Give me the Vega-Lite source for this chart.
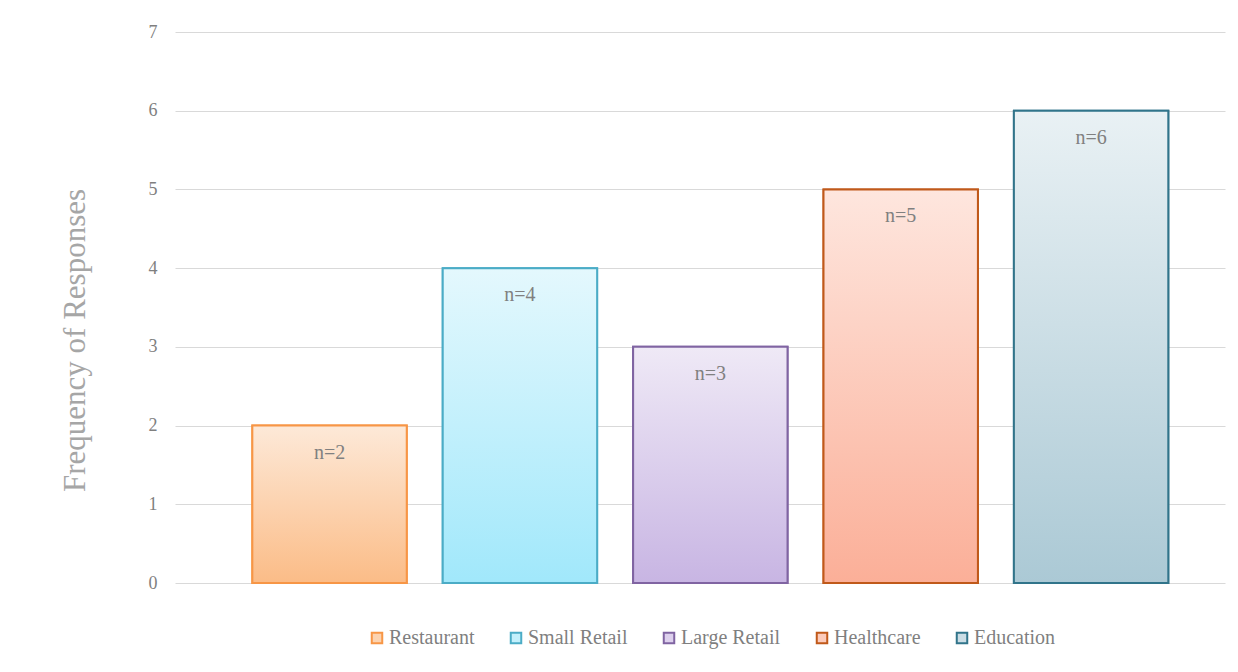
{
  "$schema": "https://vega.github.io/schema/vega-lite/v6.json",
  "autosize": "none",
  "width": 1050,
  "height": 551,
  "padding": {"left": 175, "top": 32, "right": 13, "bottom": 89},
  "background": "white",
  "config": {"view": {"stroke": null}, "font": "Liberation Serif"},
  "data": {
    "values": [
      {"sector": "Restaurant", "count": 2, "label": "n=2"},
      {"sector": "Small Retail", "count": 4, "label": "n=4"},
      {"sector": "Large Retail", "count": 3, "label": "n=3"},
      {"sector": "Healthcare", "count": 5, "label": "n=5"},
      {"sector": "Education", "count": 6, "label": "n=6"}
    ]
  },
  "encoding": {
    "x": {
      "field": "sector",
      "type": "nominal",
      "sort": null,
      "axis": null,
      "scale": {"paddingInner": 0.189, "paddingOuter": 0.352, "align": 0.577}
    },
    "y": {
      "field": "count",
      "type": "quantitative",
      "scale": {"domain": [0, 7], "nice": false},
      "axis": {
        "title": "Frequency of Responses",
        "titleFont": "Liberation Serif",
        "titleFontSize": 31,
        "titleFontWeight": "normal",
        "titleColor": "#a6a6a6",
        "titlePadding": 57,
        "titleY": 308,
        "titleAnchor": "middle",
        "values": [0, 1, 2, 3, 4, 5, 6, 7],
        "labelFont": "Liberation Serif",
        "labelFontSize": 18,
        "labelColor": "#7f7f7f",
        "labelPadding": 18,
        "domain": false,
        "ticks": false,
        "grid": true,
        "gridColor": "#d9d9d9",
        "gridWidth": 1
      }
    },
    "stroke": {
      "field": "sector",
      "type": "nominal",
      "sort": null,
      "scale": {
        "domain": ["Restaurant", "Small Retail", "Large Retail", "Healthcare", "Education"],
        "range": ["#f79646", "#4bacc6", "#8064a2", "#c0591a", "#31748a"]
      },
      "legend": {
        "title": null,
        "orient": "none",
        "direction": "horizontal",
        "legendX": 192,
        "legendY": 596,
        "symbolType": "square",
        "symbolSize": 110,
        "symbolStrokeWidth": 2,
        "labelFont": "Liberation Serif",
        "labelFontSize": 20,
        "labelColor": "#7f7f7f",
        "labelOffset": 2,
        "columnPadding": 31
      }
    }
  },
  "layer": [
    {
      "mark": {"type": "bar", "strokeWidth": 2},
      "encoding": {
        "fill": {
          "field": "sector",
          "type": "nominal",
          "sort": null,
          "scale": {
            "domain": ["Restaurant", "Small Retail", "Large Retail", "Healthcare", "Education"],
            "range": ["#fcd3b0", "#c3f0fc", "#ddd0ed", "#fccbbb", "#cbdde5"]
          },
          "legend": {
            "title": null,
            "orient": "none",
            "direction": "horizontal",
            "legendX": 192,
            "legendY": 596,
            "symbolType": "square",
            "symbolSize": 110,
            "symbolStrokeWidth": 2,
            "labelFont": "Liberation Serif",
            "labelFontSize": 20,
            "labelColor": "#7f7f7f",
            "labelOffset": 2,
            "columnPadding": 31
          }
        }
      }
    },
    {
      "transform": [{"filter": "datum.sector === 'Restaurant'"}],
      "mark": {"type": "bar", "strokeWidth": 2, "fill": {"gradient": "linear", "x1": 0, "y1": 0, "x2": 0, "y2": 1, "stops": [{"offset": 0, "color": "#fde9d8"}, {"offset": 1, "color": "#fbbc87"}]}}
    },
    {
      "transform": [{"filter": "datum.sector === 'Small Retail'"}],
      "mark": {"type": "bar", "strokeWidth": 2, "fill": {"gradient": "linear", "x1": 0, "y1": 0, "x2": 0, "y2": 1, "stops": [{"offset": 0, "color": "#e4f8fd"}, {"offset": 1, "color": "#a1e8fb"}]}}
    },
    {
      "transform": [{"filter": "datum.sector === 'Large Retail'"}],
      "mark": {"type": "bar", "strokeWidth": 2, "fill": {"gradient": "linear", "x1": 0, "y1": 0, "x2": 0, "y2": 1, "stops": [{"offset": 0, "color": "#efe9f6"}, {"offset": 1, "color": "#c8b5e3"}]}}
    },
    {
      "transform": [{"filter": "datum.sector === 'Healthcare'"}],
      "mark": {"type": "bar", "strokeWidth": 2, "fill": {"gradient": "linear", "x1": 0, "y1": 0, "x2": 0, "y2": 1, "stops": [{"offset": 0, "color": "#fee6de"}, {"offset": 1, "color": "#fbaf98"}]}}
    },
    {
      "transform": [{"filter": "datum.sector === 'Education'"}],
      "mark": {"type": "bar", "strokeWidth": 2, "fill": {"gradient": "linear", "x1": 0, "y1": 0, "x2": 0, "y2": 1, "stops": [{"offset": 0, "color": "#e9f1f4"}, {"offset": 1, "color": "#abc9d5"}]}}
    },
    {
      "mark": {"type": "text", "baseline": "middle", "dy": 27, "font": "Liberation Serif", "fontSize": 20, "color": "#808080"},
      "encoding": {"text": {"field": "label", "type": "nominal"}, "stroke": {"value": null}}
    }
  ]
}
